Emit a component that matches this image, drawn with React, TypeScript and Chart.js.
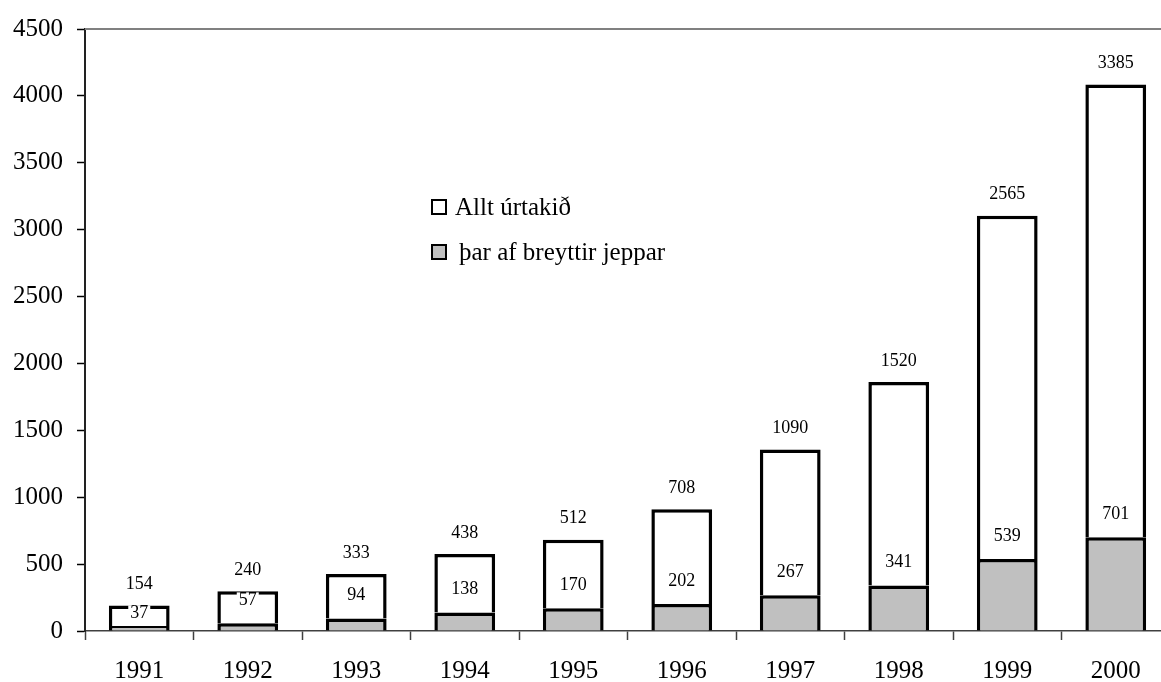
import React, { useEffect, useRef } from "react";
import { Chart, registerables } from "chart.js";

Chart.register(...registerables);

const years = ["1991", "1992", "1993", "1994", "1995", "1996", "1997", "1998", "1999", "2000"];
const jeppar = [37, 57, 94, 138, 170, 202, 267, 341, 539, 701];
const allt = [154, 240, 333, 438, 512, 708, 1090, 1520, 2565, 3385];
const legendLabels = ["Allt úrtakið", "þar af breyttir jeppar"];

const SERIF = "'Liberation Serif', 'Times New Roman', serif";

const labelsPlugin = {
  id: "valueLabels",
  afterDatasetsDraw(chart: any) {
    const ctx = chart.ctx;
    const y = chart.scales.y;
    ctx.save();
    ctx.font = `18px ${SERIF}`;
    ctx.textAlign = "center";
    ctx.textBaseline = "middle";
    const metaG = chart.getDatasetMeta(0);
    const metaW = chart.getDatasetMeta(1);
    years.forEach((_, i) => {
      const xg = metaG.data[i].x;
      const total = jeppar[i] + allt[i];
      const topY = y.getPixelForValue(total);
      const grayY = y.getPixelForValue(jeppar[i]);
      ctx.fillStyle = "#000";
      ctx.fillText(String(allt[i]), metaW.data[i].x, topY - 21);
      const ly = Math.max(grayY - 23, topY + 8);
      const txt = String(jeppar[i]);
      const w = ctx.measureText(txt).width;
      ctx.fillStyle = "#fff";
      ctx.fillRect(xg - w / 2 - 2, ly - 8, w + 4, 16);
      ctx.fillStyle = "#000";
      ctx.fillText(txt, xg, ly);
    });
    ctx.restore();
  },
};

const framePlugin = {
  id: "frameAndLegend",
  afterDraw(chart: any) {
    const ctx = chart.ctx;
    const a = chart.chartArea;
    const ty = chart.scales.y.getPixelForValue(4500);
    ctx.save();
    ctx.strokeStyle = "#808080";
    ctx.lineWidth = 2;
    ctx.beginPath();
    ctx.moveTo(a.left, ty);
    ctx.lineTo(chart.width, ty);
    ctx.stroke();

    // legend
    ctx.font = `25px ${SERIF}`;
    ctx.textBaseline = "middle";
    ctx.textAlign = "left";
    ctx.lineWidth = 2;
    ctx.strokeStyle = "#000";
    ctx.fillStyle = "#fff";
    ctx.fillRect(432, 200, 14, 14);
    ctx.strokeRect(432, 200, 14, 14);
    ctx.fillStyle = "#000";
    ctx.fillText(legendLabels[0], 455, 208);
    ctx.fillStyle = "#c0c0c0";
    ctx.fillRect(432, 245, 14, 14);
    ctx.strokeRect(432, 245, 14, 14);
    ctx.fillStyle = "#000";
    ctx.fillText(legendLabels[1], 459, 253);
    ctx.restore();
  },
};

export default function App() {
  const ref = useRef<HTMLCanvasElement>(null);
  useEffect(() => {
    if (!ref.current) return;
    const chart = new Chart(ref.current, {
      type: "bar",
      data: {
        labels: years,
        datasets: [
          {
            label: legendLabels[1],
            data: jeppar,
            backgroundColor: "#c0c0c0",
            borderColor: "#000",
            borderWidth: 3.5,
            barPercentage: 0.56,
            categoryPercentage: 1,
            inflateAmount: 0,
          },
          {
            label: legendLabels[0],
            data: allt,
            backgroundColor: "#ffffff",
            borderColor: "#000",
            borderWidth: 3.5,
            barPercentage: 0.56,
            categoryPercentage: 1,
            inflateAmount: 0,
          },
        ],
      },
      options: {
        animation: false,
        responsive: false,
        maintainAspectRatio: false,
        layout: { padding: { top: 25, right: 5, left: 0, bottom: 0 } },
        plugins: {
          legend: { display: false },
          tooltip: { enabled: false },
        },
        scales: {
          x: {
            stacked: true,
            grid: {
              offset: true,
              drawOnChartArea: false,
              drawTicks: true,
              tickLength: 9,
              tickColor: "#404040",
              tickWidth: 1.5,
            },
            border: { display: true, color: "#404040", width: 1.5 },
            ticks: {
              color: "#000",
              font: { family: SERIF, size: 25 },
              padding: 16,
              maxRotation: 0,
            },
            afterFit(scale: any) {
              scale.height = 51;
            },
          },
          y: {
            stacked: true,
            min: 0,
            max: 4500,
            grid: {
              drawOnChartArea: false,
              drawTicks: true,
              tickLength: 8,
              tickColor: "#000",
              tickWidth: 1.5,
            },
            border: { display: true, color: "#222", width: 2 },
            ticks: {
              stepSize: 500,
              color: "#000",
              font: { family: SERIF, size: 25 },
              padding: 14,
              callback: (v: any) => String(v),
            },
            afterFit(scale: any) {
              scale.width = 85;
            },
          },
        },
      },
      plugins: [labelsPlugin, framePlugin],
    });
    return () => chart.destroy();
  }, []);
  return (
    <div style={{ position: "fixed", left: 0, top: 0, width: 1161, height: 682, overflow: "hidden", background: "#fff" }}>
      <canvas ref={ref} width={1175} height={682} style={{ display: "block" }} />
    </div>
  );
}
